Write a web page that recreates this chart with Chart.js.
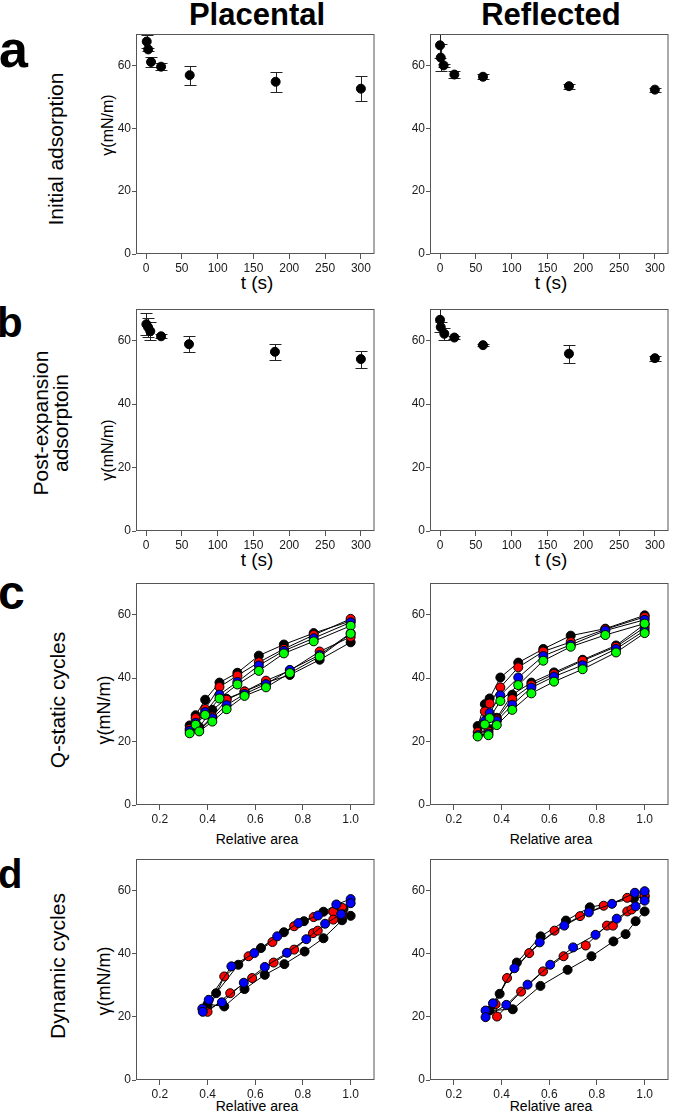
<!DOCTYPE html>
<html>
<head>
<meta charset="utf-8">
<script src="https://cdn.jsdelivr.net/npm/chart.js@4.4.0/dist/chart.umd.min.js"></script>
<style>
    body { margin: 0; width: 675px; height: 1115px; overflow: hidden; background: #fff; position: relative;
        font-family: "Liberation Sans", Arial, sans-serif; color: #000; }
    canvas { position: absolute; }
    .c { position: absolute; white-space: nowrap; line-height: 1; transform: translate(-50%, -50%); }
    .r { transform: translate(-50%, -50%) rotate(-90deg); text-align: center; }
    .head { font-size: 31px; font-weight: bold; }
    .row { font-size: 21px; }
    .gam { font-size: 16px; }
    .ts { font-size: 19px; }
    .ra { font-size: 14px; }
    .let { position: absolute; font-weight: bold; line-height: 1; }
</style>
</head>
<body>
<div class="c head" style="left:257px;top:14px">Placental</div>
<div class="c head" style="left:551px;top:14px">Reflected</div>

<div class="let" style="left:-1px;top:23px;font-size:52px">a</div>
<div class="let" style="left:-3px;top:302px;font-size:42px">b</div>
<div class="let" style="left:-2px;top:569px;font-size:48px">c</div>
<div class="let" style="left:-2px;top:854px;font-size:40px">d</div>

<div class="c r row" style="left:55px;top:149px">Initial adsorption</div>
<div class="c r row" style="left:51px;top:423px;line-height:20px">Post-expansion<br>adsorptoin</div>
<div class="c r row" style="left:57px;top:700px">Q-static cycles</div>
<div class="c r row" style="left:57px;top:966px">Dynamic cycles</div>

<div class="c r gam" style="left:108px;top:125px">γ(mN/m)</div>
<div class="c r gam" style="left:108px;top:450px">γ(mN/m)</div>
<div class="c r gam" style="left:104px;top:710px;font-size:18px">γ(mN/m)</div>
<div class="c r gam" style="left:104px;top:981px;font-size:18px">γ(mN/m)</div>

<div class="c ts" style="left:257px;top:282px">t (s)</div>
<div class="c ts" style="left:551px;top:282px">t (s)</div>
<div class="c ts" style="left:257px;top:559px">t (s)</div>
<div class="c ts" style="left:551px;top:559px">t (s)</div>
<div class="c ra" style="left:257px;top:839px">Relative area</div>
<div class="c ra" style="left:551px;top:839px">Relative area</div>
<div class="c ra" style="left:257px;top:1106px">Relative area</div>
<div class="c ra" style="left:551px;top:1106px">Relative area</div>

<script>
    // axis ticks
    var timeTicks = [0, 50, 100, 150, 200, 250, 300];
    var areaTicks = [0.2, 0.4, 0.6, 0.8, 1.0];
    var gammaTicks = [0, 20, 40, 60];

    // a - initial adsorption
    var initPlacT = [1, 3, 7, 21, 61, 181, 300];
    var initPlacG = [67.6, 65.1, 61.1, 59.6, 56.9, 54.8, 52.6];
    var initPlacErr = [2.1, 0.6, 1.6, 1.1, 3.0, 3.1, 4.0];
    var initReflT = [0, 1, 5, 20, 60, 180, 300];
    var initReflG = [66.4, 62.5, 60.0, 57.1, 56.4, 53.4, 52.3];
    var initReflErr = [4.0, 4.3, 0.5, 1.2, 0.8, 0.8, 0.6];

    // b - post-expansion adsorption
    var postPlacT = [0.5, 3, 6, 21, 60, 180, 300];
    var postPlacG = [65.2, 64.2, 63.0, 61.4, 58.9, 56.5, 54.2];
    var postPlacErr = [3.5, 3.0, 2.8, 0.7, 2.6, 2.5, 2.7];
    var postReflT = [0, 1, 6, 20, 60, 180, 300];
    var postReflG = [66.6, 64.3, 62.2, 61.0, 58.6, 55.9, 54.5];
    var postReflErr = [4.0, 1.5, 1.9, 0.5, 0.3, 2.9, 0.8];

    // c - quasi-static cycles (compression branch then expansion branch)
    var qsPlacX = [1.0, 0.845, 0.72, 0.615, 0.525, 0.45, 0.39, 0.35, 0.325,
        0.365, 0.42, 0.48, 0.555, 0.645, 0.745, 0.87, 1.0];
    var qsPlacBlack = [58.0, 54.2, 50.6, 47.1, 41.7, 38.6, 33.2, 28.3, 25.1,
        24.6, 30.0, 33.5, 35.8, 38.6, 41.0, 45.8, 51.3];
    var qsPlacRed = [58.7, 53.6, 49.2, 45.0, 40.8, 37.2, 30.3, 27.4, 24.0,
        23.8, 27.9, 33.2, 35.8, 39.2, 42.4, 48.4, 53.0];
    var qsPlacBlue = [57.6, 52.6, 48.6, 44.0, 38.8, 34.8, 29.3, 25.9, 23.4,
        23.4, 27.4, 31.5, 35.0, 38.1, 42.6, 47.3, 54.2];
    var qsPlacGreen = [56.5, 51.6, 47.8, 42.3, 38.0, 33.6, 28.4, 25.3, 22.6,
        23.2, 26.3, 30.2, 34.4, 37.1, 41.6, 46.8, 54.0];

    var qsReflX = [1.0, 0.835, 0.69, 0.575, 0.47, 0.395, 0.35, 0.33, 0.30,
        0.345, 0.38, 0.445, 0.525, 0.62, 0.74, 0.88, 1.0];
    var qsReflBlack = [59.8, 55.6, 53.4, 49.2, 44.9, 40.2, 33.6, 31.8, 24.9,
        24.0, 27.5, 34.8, 38.6, 41.8, 45.8, 50.3, 57.0];
    var qsReflRed = [59.3, 55.4, 51.4, 48.4, 43.4, 37.1, 32.0, 29.5, 23.0,
        23.2, 27.0, 33.4, 37.8, 41.3, 45.5, 49.9, 56.0];
    var qsReflBlue = [58.4, 55.0, 50.5, 47.0, 40.2, 34.6, 29.0, 26.5, 22.0,
        22.5, 26.5, 31.6, 37.0, 40.5, 44.1, 49.2, 55.0];
    var qsReflGreen = [57.2, 53.6, 49.9, 45.5, 37.8, 32.8, 27.4, 25.4, 21.6,
        22.0, 25.2, 30.0, 35.2, 38.9, 42.8, 48.1, 54.2];

    // d - dynamic cycles
    var dynPlacBlackX = [0.97, 0.886, 0.804, 0.72, 0.624, 0.529, 0.436, 0.40,
        0.47, 0.555, 0.64, 0.722, 0.807, 0.886, 0.964, 1.0];
    var dynPlacBlackY = [54.2, 53.3, 50.3, 46.8, 41.8, 36.5, 27.5, 24.0,
        23.3, 28.8, 33.3, 36.7, 40.7, 44.9, 50.6, 52.0];
    var dynPlacRedX = [0.965, 0.927, 0.845, 0.763, 0.672, 0.572, 0.47, 0.40,
        0.495, 0.587, 0.677, 0.763, 0.842, 0.862, 0.927, 0.965];
    var dynPlacRedY = [54.5, 53.3, 51.6, 48.7, 43.7, 39.2, 32.8, 21.6,
        27.5, 32.3, 37.2, 41.3, 46.5, 47.3, 50.8, 52.5];
    var dynPlacBlueX = [1.0, 0.94, 0.863, 0.781, 0.692, 0.596, 0.50, 0.405, 0.378,
        0.38, 0.46, 0.552, 0.64, 0.733, 0.814, 0.893, 0.96, 1.0];
    var dynPlacBlueY = [57.3, 55.6, 52.1, 49.7, 45.5, 40.2, 36.0, 25.4, 22.6,
        21.6, 24.6, 30.8, 35.8, 40.3, 44.6, 49.5, 52.5, 56.0];

    var dynReflBlackX = [1.0, 0.955, 0.77, 0.67, 0.564, 0.464, 0.392, 0.35,
        0.447, 0.563, 0.677, 0.777, 0.869, 0.92, 0.962, 1.0];
    var dynReflBlackY = [58.0, 57.5, 54.7, 50.5, 45.5, 37.2, 27.3, 22.0,
        22.4, 29.8, 34.9, 39.2, 43.9, 46.2, 50.3, 53.4];
    var dynReflRedX = [1.0, 0.927, 0.828, 0.729, 0.622, 0.516, 0.423, 0.375,
        0.381, 0.482, 0.574, 0.66, 0.753, 0.842, 0.867, 0.927, 0.945];
    var dynReflRedY = [58.5, 57.7, 55.2, 51.9, 47.3, 40.2, 32.3, 24.0,
        20.1, 28.0, 34.4, 39.2, 42.6, 48.9, 48.9, 53.4, 54.0];
    var dynReflBlueX = [1.0, 0.959, 0.863, 0.766, 0.663, 0.56, 0.454, 0.364, 0.333,
        0.333, 0.42, 0.509, 0.604, 0.70, 0.794, 0.883, 0.962, 1.0];
    var dynReflBlueY = [59.8, 59.3, 55.8, 53.1, 48.9, 43.6, 35.4, 24.3, 22.0,
        19.9, 23.8, 30.2, 36.5, 42.0, 46.0, 51.1, 55.0, 56.8];

    var BLACK = '#000000', RED = '#ff0000', BLUE = '#0000ff', GREEN = '#00ff00';

    // panel boxes (page pixels)
    var colBox = [[136, 378], [430, 672]];
    var rowBox = [[34, 254], [309, 531], [583, 805], [859, 1080]];
    var PAD_L = 40, PAD_T = 12, PAD_R = 2, X_H = 24;

    Chart.defaults.font.family = '"Liberation Sans", Arial, sans-serif';

    /**
     * Draws vertical error bars for datasets that carry an errors array.
     */
    var errorBarPlugin = {
        id: 'errorBars',
        beforeDatasetsDraw: function(chart) {
            var ctx = chart.ctx, area = chart.chartArea;
            var xs = chart.scales.x, ys = chart.scales.y;
            ctx.save();
            ctx.beginPath();
            ctx.rect(area.left, area.top, area.right - area.left, area.bottom - area.top);
            ctx.clip();
            ctx.strokeStyle = '#222';
            ctx.lineWidth = 1;
            chart.data.datasets.forEach(function(ds) {
                if (!ds.errors) {
                    return;
                }
                ds.data.forEach(function(p, i) {
                    var e = ds.errors[i];
                    if (!e) {
                        return;
                    }
                    var x = Math.round(xs.getPixelForValue(p.x)) + 0.5;
                    var y1 = Math.round(ys.getPixelForValue(p.y + e)) + 0.5;
                    var y2 = Math.round(ys.getPixelForValue(p.y - e)) + 0.5;
                    ctx.beginPath();
                    ctx.moveTo(x, y1);
                    ctx.lineTo(x, y2);
                    ctx.moveTo(x - 6, y1);
                    ctx.lineTo(x + 6, y1);
                    ctx.moveTo(x - 6, y2);
                    ctx.lineTo(x + 6, y2);
                    ctx.stroke();
                });
            });
            ctx.restore();
        }
    };

    // full box round the plot area
    var framePlugin = {
        id: 'frame',
        afterDraw: function(chart) {
            var a = chart.chartArea, ctx = chart.ctx;
            ctx.save();
            ctx.strokeStyle = '#555';
            ctx.lineWidth = 1;
            ctx.strokeRect(a.left + 0.5, a.top + 0.5, a.right - a.left - 1, a.bottom - a.top - 1);
            ctx.restore();
        }
    };

    function points(xs, ys) {
        return xs.map(function(x, i) {
            return { x: x, y: ys[i] };
        });
    }

    function timeSet(ts, gs, errs) {
        return {
            data: points(ts, gs),
            errors: errs,
            backgroundColor: BLACK,
            pointBackgroundColor: BLACK,
            pointBorderColor: BLACK,
            pointRadius: 4.5,
            showLine: false
        };
    }

    function cycleSet(xs, ys, color, order) {
        return {
            data: points(xs, ys),
            showLine: true,
            tension: 0,
            borderColor: BLACK,
            borderWidth: 1,
            backgroundColor: color,
            pointBackgroundColor: color,
            pointBorderColor: BLACK,
            pointBorderWidth: 1,
            pointRadius: 4.5,
            order: order
        };
    }

    function makePanel(col, row, datasets, isArea) {
        var left = colBox[col][0], right = colBox[col][1];
        var top = rowBox[row][0], bottom = rowBox[row][1];
        var canvas = document.createElement('canvas');
        canvas.width = right - left + PAD_L + PAD_R;
        canvas.height = bottom - top + PAD_T + X_H;
        canvas.style.left = (left - PAD_L) + 'px';
        canvas.style.top = (top - PAD_T) + 'px';
        document.body.appendChild(canvas);

        var xTicks = isArea ? areaTicks : timeTicks;
        return new Chart(canvas.getContext('2d'), {
            type: 'scatter',
            data: { datasets: datasets },
            options: {
                responsive: false,
                animation: false,
                layout: { padding: { top: PAD_T, right: PAD_R, left: 0, bottom: 0 } },
                plugins: { legend: { display: false }, tooltip: { enabled: false } },
                scales: {
                    x: {
                        type: 'linear',
                        min: isArea ? 0.1 : -14,
                        max: isArea ? 1.1 : 319,
                        afterBuildTicks: function(s) {
                            s.ticks = xTicks.map(function(v) { return { value: v }; });
                        },
                        afterFit: function(s) { s.height = X_H; },
                        border: { display: false },
                        grid: { drawOnChartArea: false, drawTicks: true, tickLength: 5, color: '#555' },
                        ticks: {
                            padding: 2,
                            color: '#1a1a1a',
                            font: { size: 12 },
                            maxRotation: 0,
                            autoSkip: false,
                            callback: function(v) { return isArea ? v.toFixed(1) : String(v); }
                        }
                    },
                    y: {
                        type: 'linear',
                        min: 0,
                        max: 70,
                        afterBuildTicks: function(s) {
                            s.ticks = gammaTicks.map(function(v) { return { value: v }; });
                        },
                        afterFit: function(s) { s.width = PAD_L; },
                        border: { display: false },
                        grid: { drawOnChartArea: false, drawTicks: true, tickLength: 4, color: '#555' },
                        ticks: { padding: 1, color: '#1a1a1a', font: { size: 12 } }
                    }
                }
            },
            plugins: [errorBarPlugin, framePlugin]
        });
    }

    makePanel(0, 0, [timeSet(initPlacT, initPlacG, initPlacErr)], false);
    makePanel(1, 0, [timeSet(initReflT, initReflG, initReflErr)], false);
    makePanel(0, 1, [timeSet(postPlacT, postPlacG, postPlacErr)], false);
    makePanel(1, 1, [timeSet(postReflT, postReflG, postReflErr)], false);

    // later cycles sit on top: lower order is drawn last
    makePanel(0, 2, [
        cycleSet(qsPlacX, qsPlacBlack, BLACK, 4),
        cycleSet(qsPlacX, qsPlacRed, RED, 3),
        cycleSet(qsPlacX, qsPlacBlue, BLUE, 2),
        cycleSet(qsPlacX, qsPlacGreen, GREEN, 1)
    ], true);
    makePanel(1, 2, [
        cycleSet(qsReflX, qsReflBlack, BLACK, 4),
        cycleSet(qsReflX, qsReflRed, RED, 3),
        cycleSet(qsReflX, qsReflBlue, BLUE, 2),
        cycleSet(qsReflX, qsReflGreen, GREEN, 1)
    ], true);
    makePanel(0, 3, [
        cycleSet(dynPlacBlackX, dynPlacBlackY, BLACK, 3),
        cycleSet(dynPlacRedX, dynPlacRedY, RED, 2),
        cycleSet(dynPlacBlueX, dynPlacBlueY, BLUE, 1)
    ], true);
    makePanel(1, 3, [
        cycleSet(dynReflBlackX, dynReflBlackY, BLACK, 3),
        cycleSet(dynReflRedX, dynReflRedY, RED, 2),
        cycleSet(dynReflBlueX, dynReflBlueY, BLUE, 1)
    ], true);
</script>
</body>
</html>
